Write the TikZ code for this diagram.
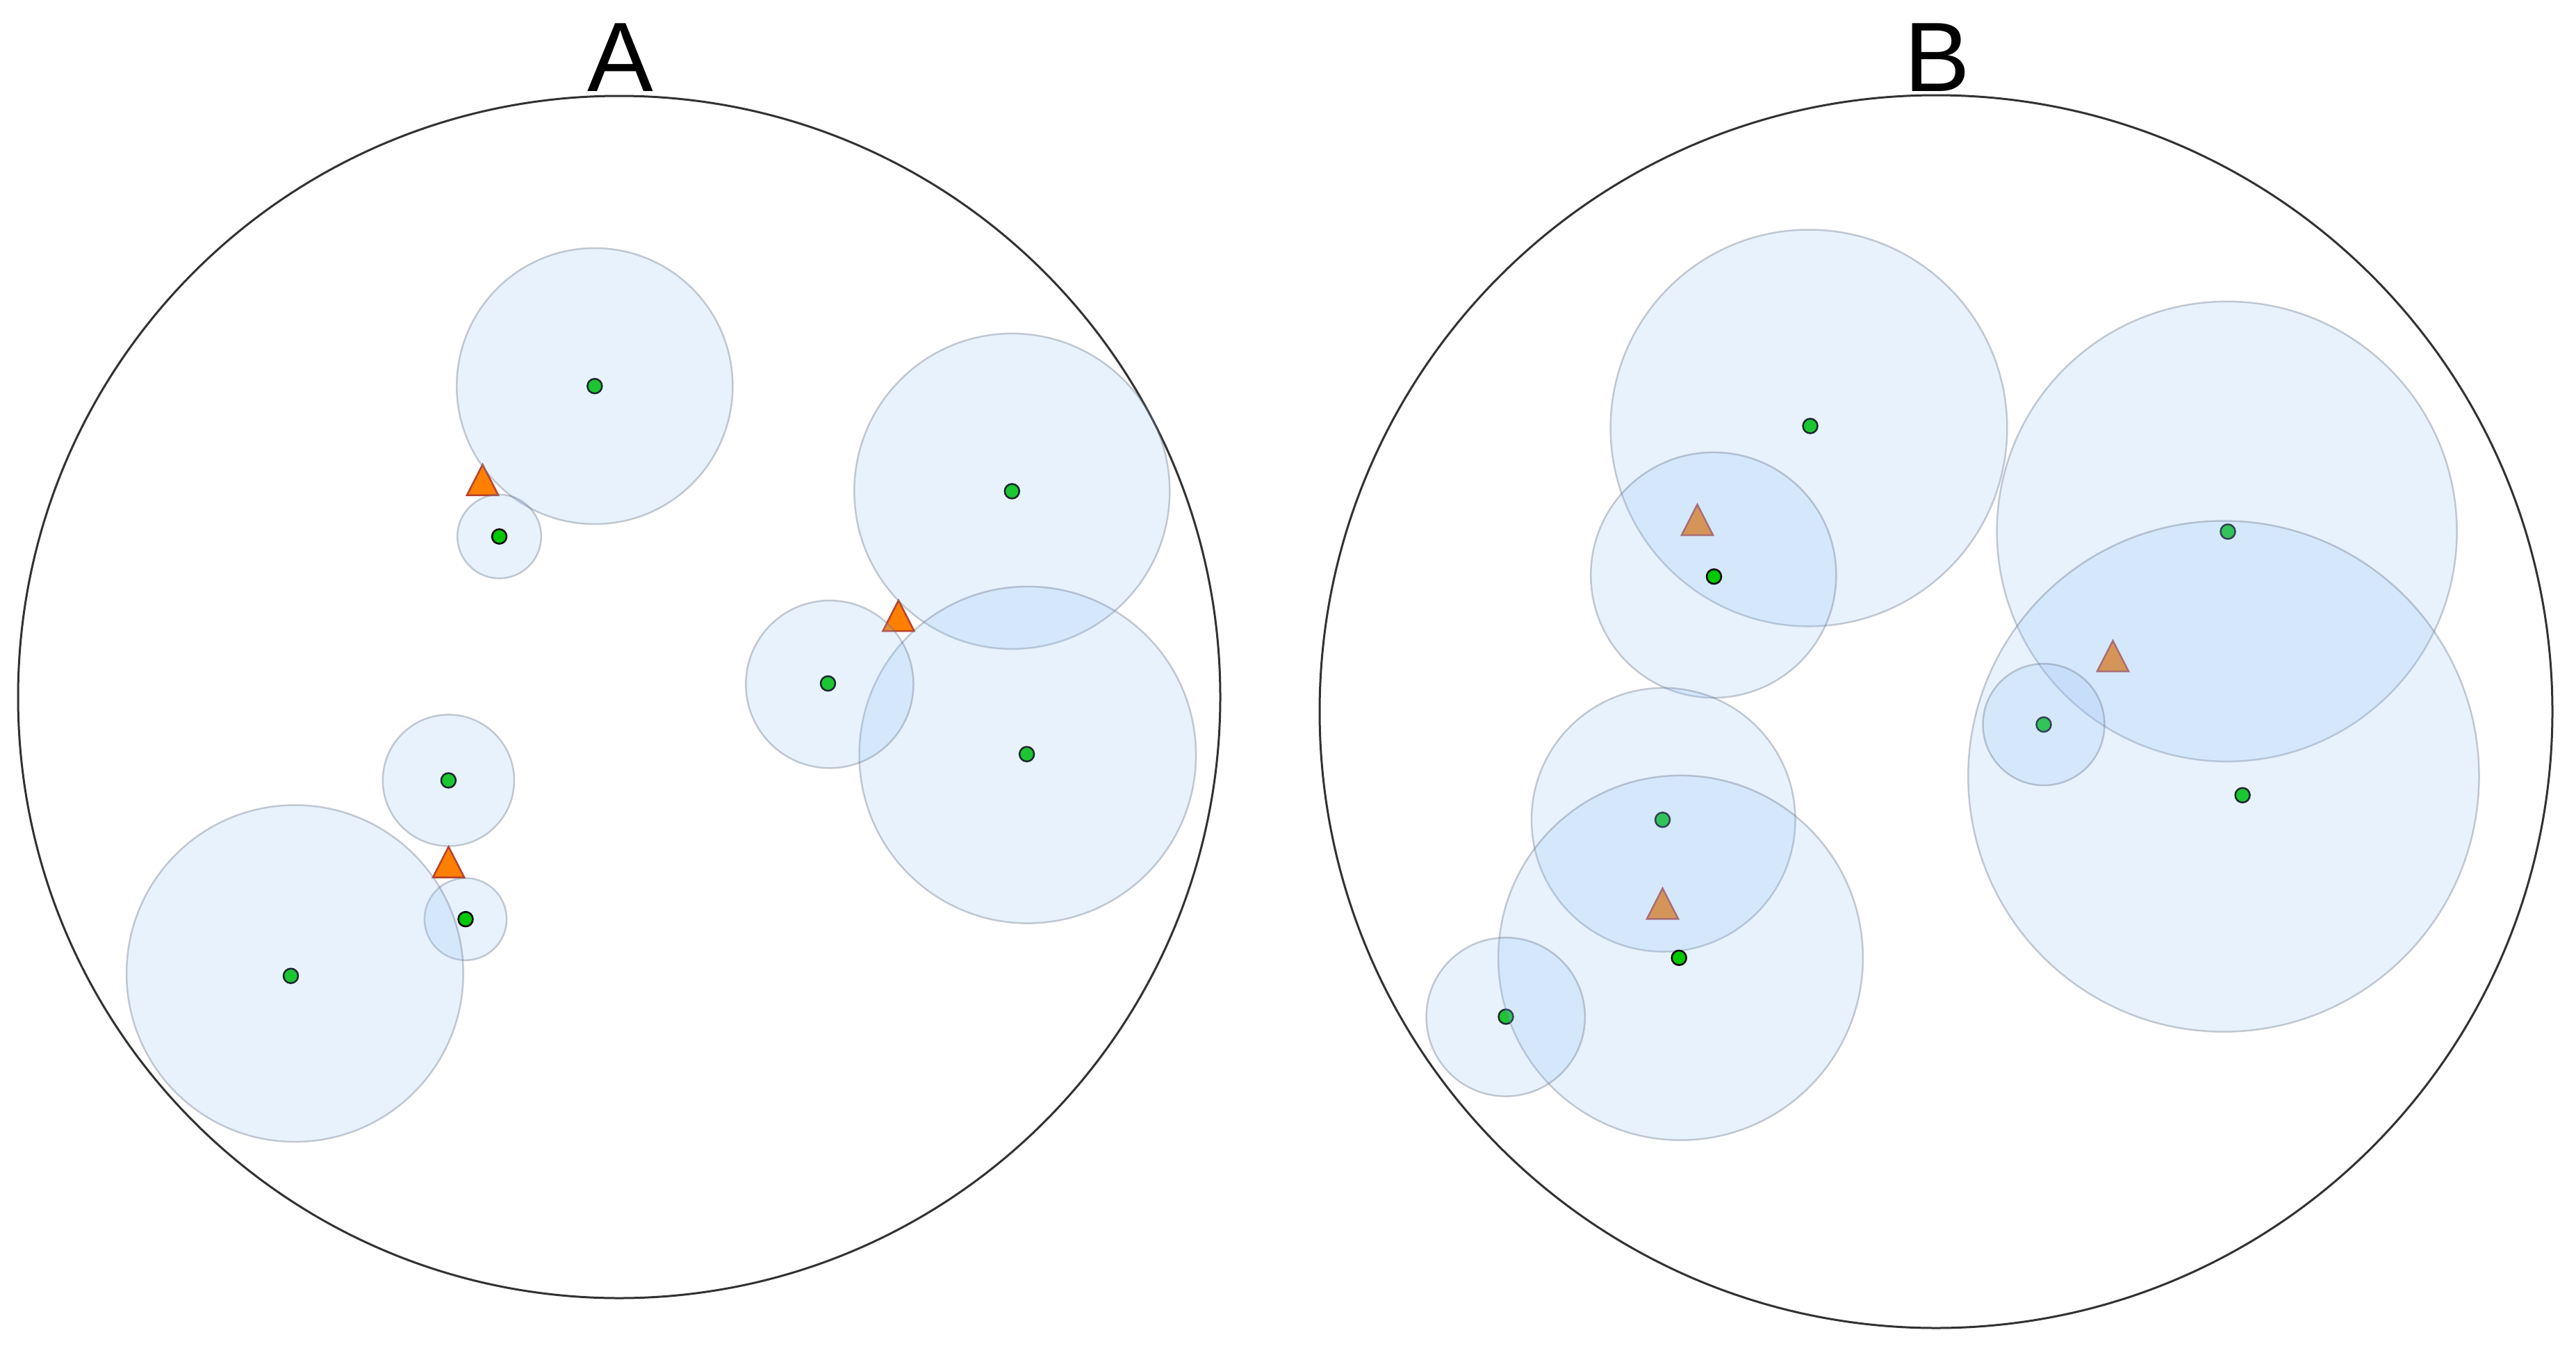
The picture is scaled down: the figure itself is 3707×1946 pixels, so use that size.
\documentclass[tikz,border=0pt]{standalone}
\usepackage{fontspec}
\setmainfont{Liberation Sans}
\definecolor{blobblue}{RGB}{140,190,245}
\definecolor{edgegray}{RGB}{100,110,130}
\definecolor{dotgreen}{RGB}{0,200,0}
\definecolor{triorange}{RGB}{255,127,0}
\definecolor{triedge}{RGB}{185,65,45}
\definecolor{ringcol}{RGB}{50,50,50}
\tikzset{
  ring/.style={draw=ringcol, line width=3pt},
  blob/.style={fill=blobblue, fill opacity=0.2, draw=edgegray, draw opacity=0.35, line width=2.5pt},
  gdot/.style={fill=dotgreen, draw=black, line width=2.5pt},
  tri/.style={fill=triorange, draw=triedge, line width=2.5pt, line join=miter},
  panellabel/.style={inner sep=0pt, anchor=base, font=\fontsize{142}{150}\selectfont}
}
\begin{document}
\begin{tikzpicture}[x=1pt,y=-1pt]
\useasboundingbox (0,0) rectangle (3707,1946);
\fill[white] (0,0) rectangle (3707,1946);
% outer rings
\draw[ring] (891,1003) circle[radius=865pt];
\draw[ring] (2786,1024) circle[radius=887pt];
% labels
\node[panellabel] (labA) at (893,131) {A};
\node[panellabel] (labB) at (2788,131) {B};
% dots beneath circles
\foreach \x/\y in {855.8/555.6, 1456.3/706.9, 1477.6/1085.2, 1191.5/983.5, 645.4/1123, 418.5/1404.3,
                   2605/613, 3206/765, 3227.1/1144.3, 2941/1042.6, 2392.5/1179.7, 2167/1463}
  \draw[gdot] (\x,\y) circle[radius=10.5pt];
% triangles beneath circles
\foreach \x/\y in {694.5/690.5, 1293/886, 645.5/1240.5, 2442.5/748, 3040.5/944, 2392.5/1300.3}
  \draw[tri] ({\x},{\y-22}) -- ({\x+22.5},{\y+22}) -- ({\x-22.5},{\y+22}) -- cycle;
% translucent circles, panel A
\foreach \x/\y/\r in {855.8/555.6/198.6, 718.5/772/60.3, 1456.3/706.9/227, 1478.8/1086.3/242.3,
                      1193.9/984.7/120.6, 645.4/1123/94.6, 670/1322.7/59.1, 424.4/1400.8/242.3}
  \draw[blob] (\x,\y) circle[radius=\r pt];
% translucent circles, panel B
\foreach \x/\y/\r in {2603/615.9/285.4, 2465.8/827.5/176.6, 3204.6/764.8/331, 3199.9/1117.1/367.6,
                      2941/1042.6/87.5, 2393.7/1179.7/189.8, 2418.5/1378.3/262.4, 2166.7/1463.4/114.2}
  \draw[blob] (\x,\y) circle[radius=\r pt];
% dots on top
\foreach \x/\y in {718.5/772, 670/1322.7, 2466.5/829.7, 2416.2/1378.3}
  \draw[gdot] (\x,\y) circle[radius=10.5pt];
\end{tikzpicture}
\end{document}
